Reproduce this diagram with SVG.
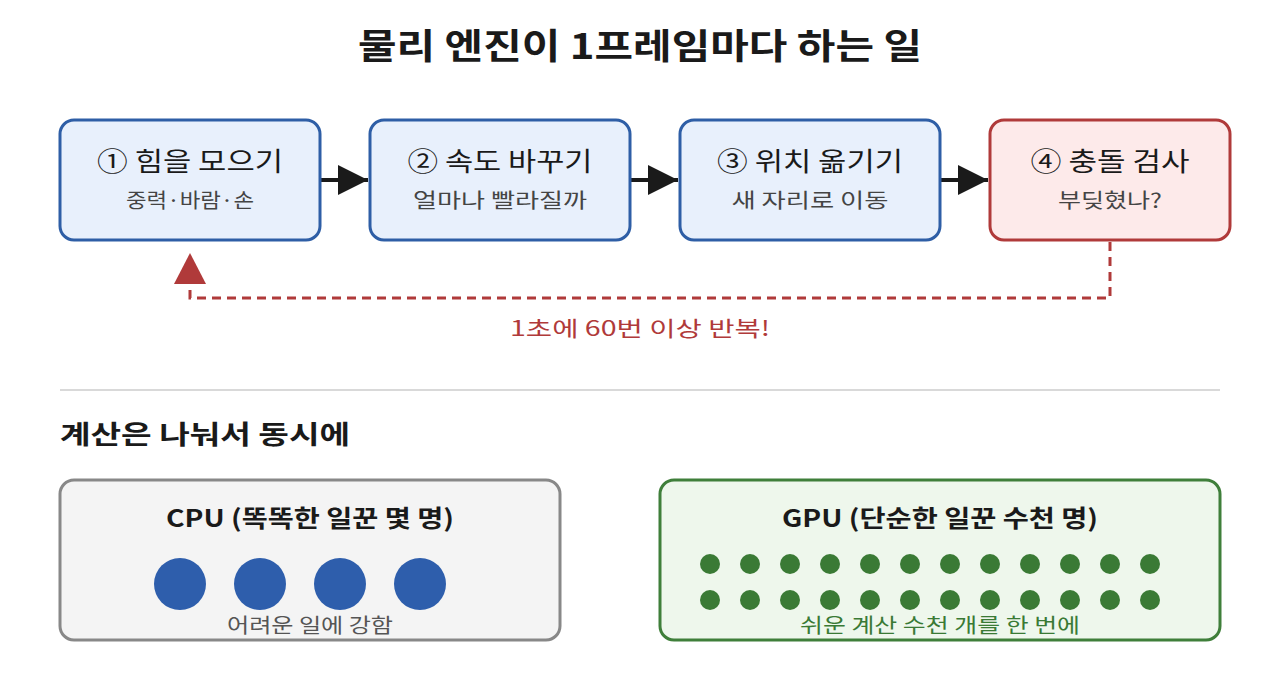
<svg xmlns="http://www.w3.org/2000/svg" width="1280" height="680" viewBox="0 0 1280 680">
<style>
text{font-family:"Noto Sans CJK KR","Noto Sans",sans-serif;}
.title{font-size:35px;font-weight:bold;fill:#1a1a1a;text-anchor:middle;}
.step{fill:#e8f0fc;stroke:#2e5ea6;stroke-width:3;}
.stepR{fill:#fdeaea;stroke:#b03a3a;stroke-width:3;}
.h{font-size:26px;fill:#1a1a1a;text-anchor:middle;}
.s{font-size:20px;fill:#444;text-anchor:middle;}
.conn{stroke:#1a1a1a;stroke-width:4;fill:none;}
.loop{stroke:#b03a3a;stroke-width:3;fill:none;stroke-dasharray:9 6;}
.sec{font-size:26px;font-weight:bold;fill:#1a1a1a;}
.ph{font-size:24px;font-weight:bold;fill:#1a1a1a;text-anchor:middle;}
</style>
<defs>
<marker id="ah" viewBox="0 0 10 10" refX="10" refY="5" markerWidth="7.5" markerHeight="7.5" markerUnits="strokeWidth" orient="auto"><path d="M0,0 L10,5 L0,10 Z" fill="#1a1a1a"/></marker>
</defs>
<rect width="1280" height="680" fill="#ffffff"/>
<text class="title" x="640" y="59" textLength="564" lengthAdjust="spacingAndGlyphs">물리 엔진이 1프레임마다 하는 일</text>

<g id="connectors">
<line class="conn" x1="320" y1="180" x2="368" y2="180" marker-end="url(#ah)"/>
<line class="conn" x1="630" y1="180" x2="678" y2="180" marker-end="url(#ah)"/>
<line class="conn" x1="940" y1="180" x2="988" y2="180" marker-end="url(#ah)"/>
<path class="loop" d="M1110,242 V298 H190 V285"/>
<path d="M174,284 L190,253 L206,284 Z" fill="#b03a3a"/>
<text x="640" y="336" textLength="260" lengthAdjust="spacingAndGlyphs" style="font-size:21px;fill:#b03a3a;text-anchor:middle">1초에 60번 이상 반복!</text>
</g>

<g id="step1">
<rect class="step" x="60" y="120" width="260" height="120" rx="14"/>
<text class="h" x="190" y="171" textLength="186" lengthAdjust="spacingAndGlyphs">① 힘을 모으기</text>
<text class="s" x="190" y="208" textLength="128" lengthAdjust="spacingAndGlyphs">중력·바람·손</text>
</g>
<g id="step2">
<rect class="step" x="370" y="120" width="260" height="120" rx="14"/>
<text class="h" x="500" y="171" textLength="185" lengthAdjust="spacingAndGlyphs">② 속도 바꾸기</text>
<text class="s" x="500" y="208" textLength="174" lengthAdjust="spacingAndGlyphs">얼마나 빨라질까</text>
</g>
<g id="step3">
<rect class="step" x="680" y="120" width="260" height="120" rx="14"/>
<text class="h" x="810" y="171" textLength="186" lengthAdjust="spacingAndGlyphs">③ 위치 옮기기</text>
<text class="s" x="810" y="208" textLength="157" lengthAdjust="spacingAndGlyphs">새 자리로 이동</text>
</g>
<g id="step4">
<rect class="stepR" x="990" y="120" width="240" height="120" rx="14"/>
<text class="h" x="1110" y="171" textLength="159" lengthAdjust="spacingAndGlyphs">④ 충돌 검사</text>
<text class="s" x="1110" y="208" textLength="104" lengthAdjust="spacingAndGlyphs">부딪혔나?</text>
</g>

<line x1="60" y1="390" x2="1220" y2="390" stroke="#cccccc" stroke-width="1.5"/>
<text class="sec" x="60" y="444" textLength="290" lengthAdjust="spacingAndGlyphs">계산은 나눠서 동시에</text>

<g id="cpu">
<rect x="60" y="480" width="500" height="160" rx="14" fill="#f4f4f4" stroke="#888888" stroke-width="3"/>
<text class="ph" x="310" y="527" textLength="288" lengthAdjust="spacingAndGlyphs">CPU (똑똑한 일꾼 몇 명)</text>
<g fill="#2e5eac">
<circle cx="180" cy="584" r="26"/>
<circle cx="260" cy="584" r="26"/>
<circle cx="340" cy="584" r="26"/>
<circle cx="420" cy="584" r="26"/>
</g>
<text x="310" y="633" textLength="166" lengthAdjust="spacingAndGlyphs" style="font-size:20px;fill:#555;text-anchor:middle">어려운 일에 강함</text>
</g>

<g id="gpu">
<rect x="660" y="480" width="560" height="160" rx="14" fill="#eef7ec" stroke="#3f7f3a" stroke-width="3"/>
<text class="ph" x="940" y="527" textLength="316" lengthAdjust="spacingAndGlyphs">GPU (단순한 일꾼 수천 명)</text>
<g fill="#3a7a35">
<circle cx="710" cy="564" r="10"/><circle cx="750" cy="564" r="10"/><circle cx="790" cy="564" r="10"/><circle cx="830" cy="564" r="10"/><circle cx="870" cy="564" r="10"/><circle cx="910" cy="564" r="10"/><circle cx="950" cy="564" r="10"/><circle cx="990" cy="564" r="10"/><circle cx="1030" cy="564" r="10"/><circle cx="1070" cy="564" r="10"/><circle cx="1110" cy="564" r="10"/><circle cx="1150" cy="564" r="10"/>
<circle cx="710" cy="600" r="10"/><circle cx="750" cy="600" r="10"/><circle cx="790" cy="600" r="10"/><circle cx="830" cy="600" r="10"/><circle cx="870" cy="600" r="10"/><circle cx="910" cy="600" r="10"/><circle cx="950" cy="600" r="10"/><circle cx="990" cy="600" r="10"/><circle cx="1030" cy="600" r="10"/><circle cx="1070" cy="600" r="10"/><circle cx="1110" cy="600" r="10"/><circle cx="1150" cy="600" r="10"/>
</g>
<text x="940" y="633" textLength="280" lengthAdjust="spacingAndGlyphs" style="font-size:20px;fill:#3a7a35;text-anchor:middle">쉬운 계산 수천 개를 한 번에</text>
</g>
</svg>
